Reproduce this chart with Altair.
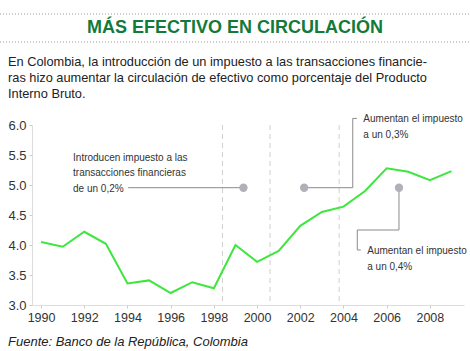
import altair as alt
import pandas as pd

years = list(range(1990, 2010))
values = [4.05, 3.97, 4.22, 4.02, 3.36, 3.41, 3.20, 3.38, 3.28, 4.00,
          3.72, 3.90, 4.32, 4.55, 4.64, 4.90, 5.28, 5.22, 5.08, 5.23]

x_ticks = list(range(1990, 2009, 2))
y_ticks = [3.0, 3.5, 4.0, 4.5, 5.0, 5.5, 6.0]

event_years = [1998.4, 2000.6, 2003.8]
dot_years = [1999.37, 2002.18, 2006.57]
dot_values = [4.955, 4.955, 4.955]

# connector segments (year, value) -> (year2, value2)
seg_x = [1994.03, 2002.18, 2004.43, 2004.43, 2006.57, 2006.57, 2004.64, 2004.64]
seg_y = [4.955, 4.955, 4.955, 6.11, 4.955, 4.25, 4.25, 3.917]
seg_x2 = [1999.37, 2004.43, 2004.43, 2004.62, 2006.57, 2004.64, 2004.64, 2004.80]
seg_y2 = [4.955, 4.955, 6.11, 6.11, 4.25, 4.25, 3.917, 3.917]

note_text = ["Introducen impuesto a las", "transacciones financieras", "de un 0,2%",
             "Aumentan el impuesto", "a un 0,3%",
             "Aumentan el impuesto", "a un 0,4%"]
note_x = [1991.48, 1991.48, 1991.48, 2004.92, 2004.92, 2005.1, 2005.1]
note_y = [5.455, 5.195, 4.935, 6.10, 5.835, 3.90, 3.635]

title = "MÁS EFECTIVO EN CIRCULACIÓN"
subtitle = ["En Colombia, la introducción de un impuesto a las transacciones financie-",
            "ras hizo aumentar la circulación de efectivo como porcentaje del Producto",
            "Interno Bruto."]
source = "Fuente: Banco de la República, Colombia"

FONT = "Liberation Sans, Arial, sans-serif"

df = pd.DataFrame({"year": years, "value": values})
xs = alt.Scale(domain=[1989.58, 2009.58], nice=False, zero=False)
ys = alt.Scale(domain=[3, 6], nice=False, zero=False)

x_axis = alt.Axis(values=x_ticks, format="d", title=None, grid=False,
                  domainColor="#dddddd", tickColor="#cccccc", tickSize=3,
                  labelFontSize=12.5, labelColor="#333333", labelPadding=3,
                  labelFont=FONT, labelOverlap=False, labelFlush=False)
y_axis = alt.Axis(values=y_ticks, format=".1f", title=None, grid=False,
                  domainColor="#dddddd", tickColor="#cccccc", tickSize=3,
                  labelFontSize=13, labelColor="#333333", labelPadding=3,
                  labelFont=FONT, labelOverlap=False, labelFlush=False)


def X(field):
    return alt.X(field, scale=xs, axis=x_axis)


def Y(field):
    return alt.Y(field, scale=ys, axis=y_axis)


vlines = alt.Chart(pd.DataFrame({"year": event_years})).mark_rule(
    color="#d0d0d0", strokeDash=[5, 4], strokeWidth=1
).encode(x=X("year:Q"))

line = alt.Chart(df).mark_line(color="#3ee63e", strokeWidth=2).encode(
    x=X("year:Q"), y=Y("value:Q"))

segs = alt.Chart(pd.DataFrame({"x": seg_x, "y": seg_y, "x2": seg_x2, "y2": seg_y2})).mark_rule(
    color="#8a8a8a", strokeWidth=1
).encode(x=X("x:Q"), y=Y("y:Q"), x2="x2:Q", y2="y2:Q")

dots = alt.Chart(pd.DataFrame({"year": dot_years, "value": dot_values})).mark_circle(
    color="#b0b0b8", opacity=1, size=70
).encode(x=X("year:Q"), y=Y("value:Q"))

notes = alt.Chart(pd.DataFrame({"t": note_text, "x": note_x, "y": note_y})).mark_text(
    align="left", baseline="middle", font=FONT, fontSize=10, color="#333333"
).encode(x=X("x:Q"), y=Y("y:Q"), text="t:N")

# decorations outside plot area (pixel offsets relative to the plot origin)
deco_rules = alt.Chart(pd.DataFrame({"k": [0, 1], "yy": [14 - 125, 42 - 125]})).mark_rule(
    color="#999999", strokeDash=[1, 2], strokeWidth=1
).encode(x=alt.value(-32), x2=alt.value(438), y=alt.Y("yy:Q", scale=None))

title_mark = alt.Chart(pd.DataFrame({"t": [title]})).mark_text(
    align="center", baseline="middle", font=FONT, fontSize=18, fontWeight="bold",
    color="#127a3a"
).encode(x=alt.value(235 - 32), y=alt.value(28 - 125), text="t:N")

sub_mark = alt.Chart(pd.DataFrame({"t": subtitle, "yy": [62 - 125, 78 - 125, 94 - 125]})).mark_text(
    align="left", baseline="middle", font=FONT, fontSize=12.8, color="#222222"
).encode(x=alt.value(8 - 32), y=alt.Y("yy:Q", scale=None), text="t:N")

src_mark = alt.Chart(pd.DataFrame({"t": [source]})).mark_text(
    align="left", baseline="middle", font=FONT, fontSize=13, fontStyle="italic",
    color="#222222"
).encode(x=alt.value(8 - 32), y=alt.value(342 - 125), text="t:N")

chart = alt.layer(
    vlines, segs, line, dots, notes, deco_rules, title_mark, sub_mark, src_mark
).properties(
    width=432, height=180,
    autosize=alt.AutoSizeParams(type="none"),
    padding={"left": 32, "top": 125, "right": 6, "bottom": 46},
    background="white"
).configure_view(stroke=None)

chart.save("out.html", embed_options={"renderer": "svg", "actions": False})
